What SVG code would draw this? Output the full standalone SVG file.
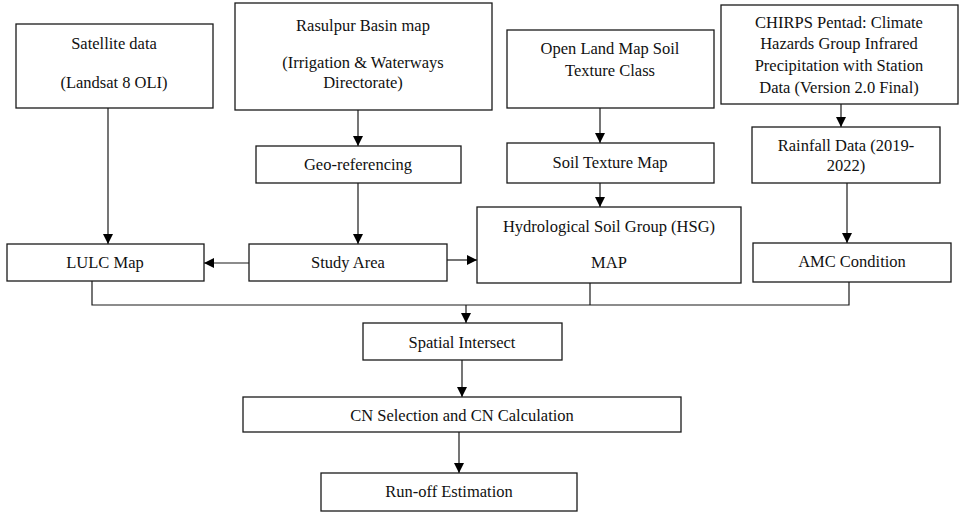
<svg xmlns="http://www.w3.org/2000/svg" width="962" height="513" viewBox="0 0 962 513">
<defs>
<marker id="ah" viewBox="0 0 10 10" refX="10" refY="5" markerWidth="10" markerHeight="10" markerUnits="userSpaceOnUse" orient="auto">
<path d="M0,0 L10,5 L0,10 Z" fill="#000"/>
</marker>
<style>
rect{fill:#fff;stroke:#1a1a1a;stroke-width:1.3}
text{font-family:"Liberation Serif","Times New Roman",serif;font-size:16.5px;fill:#111;text-anchor:middle;dominant-baseline:central}
.c{fill:none;stroke:#1a1a1a;stroke-width:1.2}
.a{marker-end:url(#ah)}
</style>
</defs>
<rect x="0" y="0" width="962" height="513" style="fill:#fff;stroke:none"/>
<g id="connectors">
<path class="c a" d="M108,108 V244"/>
<path class="c a" d="M358,110 V146"/>
<path class="c a" d="M358,183 V244"/>
<path class="c a" d="M600,108 V143"/>
<path class="c a" d="M600,183 V207"/>
<path class="c a" d="M841,104 V127"/>
<path class="c a" d="M847,183 V243"/>
<path class="c a" d="M249,263 H204"/>
<path class="c a" d="M447,260 H477"/>
<path class="c" d="M92,281 V305 H849 V282"/>
<path class="c" d="M590,283 V305"/>
<path class="c a" d="M466,305 V323"/>
<path class="c a" d="M462,360 V397"/>
<path class="c a" d="M459,432 V473"/>
</g>
<g id="satellite">
<rect x="16" y="24" width="197" height="84"/>
<text x="114" y="43">Satellite data</text>
<text x="114" y="82">(Landsat 8 OLI)</text>
</g>
<g id="rasulpur">
<rect x="235" y="3" width="257" height="107"/>
<text x="363" y="25">Rasulpur Basin map</text>
<text x="363" y="62">(Irrigation &amp; Waterways</text>
<text x="363" y="82">Directorate)</text>
</g>
<g id="openland">
<rect x="507" y="30" width="207" height="78"/>
<text x="610" y="48">Open Land Map Soil</text>
<text x="610" y="70">Texture Class</text>
</g>
<g id="chirps">
<rect x="721" y="5" width="237" height="99"/>
<text x="839" y="22">CHIRPS Pentad: Climate</text>
<text x="839" y="43">Hazards Group Infrared</text>
<text x="839" y="65">Precipitation with Station</text>
<text x="839" y="87">Data (Version 2.0 Final)</text>
</g>
<g id="georef">
<rect x="256" y="146" width="205" height="37"/>
<text x="358" y="164">Geo-referencing</text>
</g>
<g id="soiltexture">
<rect x="507" y="143" width="207" height="40"/>
<text x="610" y="162">Soil Texture Map</text>
</g>
<g id="rainfall">
<rect x="752" y="127" width="188" height="56"/>
<text x="846" y="145">Rainfall Data (2019-</text>
<text x="846" y="165">2022)</text>
</g>
<g id="lulc">
<rect x="7" y="244" width="197" height="37"/>
<text x="105" y="262">LULC Map</text>
</g>
<g id="study">
<rect x="249" y="244" width="198" height="37"/>
<text x="348" y="262">Study Area</text>
</g>
<g id="hsg">
<rect x="477" y="207" width="264" height="76"/>
<text x="609" y="226">Hydrological Soil Group (HSG)</text>
<text x="609" y="262">MAP</text>
</g>
<g id="amc">
<rect x="753" y="243" width="198" height="39"/>
<text x="852" y="261">AMC Condition</text>
</g>
<g id="spatial">
<rect x="363" y="323" width="199" height="37"/>
<text x="462" y="342">Spatial Intersect</text>
</g>
<g id="cn">
<rect x="243" y="397" width="438" height="35"/>
<text x="462" y="415">CN Selection and CN Calculation</text>
</g>
<g id="runoff">
<rect x="321" y="473" width="256" height="38"/>
<text x="449" y="491">Run-off Estimation</text>
</g>
</svg>
